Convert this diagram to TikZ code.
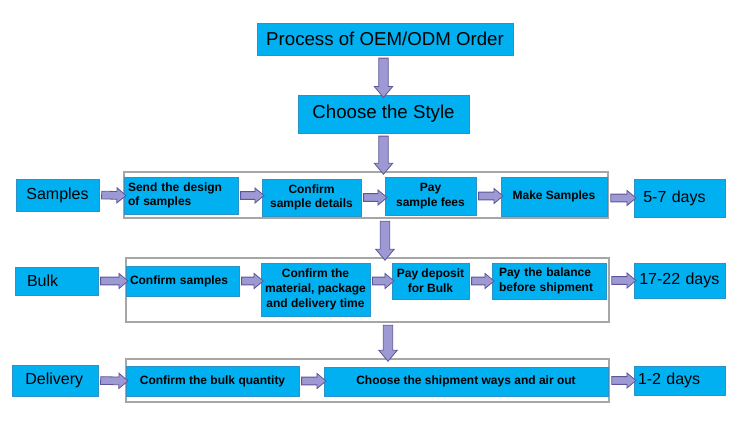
\documentclass[tikz,border=0pt]{standalone}
\usepackage{fontspec}
\setmainfont{Liberation Sans}
\usetikzlibrary{shapes.arrows, calc}
\definecolor{boxblue}{HTML}{00B0F0}
\definecolor{boxedge}{HTML}{2B93C8}
\definecolor{arrowfill}{HTML}{9D99D2}
\definecolor{arrowedge}{HTML}{5E5499}
\definecolor{framegray}{HTML}{A6A6A6}
\tikzset{
    stepbox/.style={draw=boxedge, fill=boxblue, line width=0.5pt, inner sep=3pt, font=\fontsize{9}{11}\selectfont\bfseries, align=center},
    headbox/.style={stepbox, font=\fontsize{14}{16}\selectfont},
    rowbox/.style={stepbox, font=\fontsize{12}{14}\selectfont},
    rowframe/.style={draw=framegray, fill=white, line width=0.8pt, inner sep=0pt},
    arrowbody/.style={single arrow, draw=arrowedge, fill=arrowfill, line width=0.6pt, inner xsep=0pt, single arrow tip angle=80},
    blockarrow/.style={to path={let \p1=(\tikztostart), \p2=(\tikztotarget), \n1={veclen(\x2-\x1,\y2-\y1)}, \n2={atan2(\y2-\y1,\x2-\x1)} in node[arrowbody, #1, minimum height=\n1, rotate=\n2] at ($(\tikztostart)!0.5!(\tikztotarget)$) {}}},
    harrow/.style={blockarrow={inner ysep=2.6pt, single arrow head extend=2.8pt}},
    varrow/.style={blockarrow={inner ysep=3.2pt, single arrow head extend=3.4pt}},
    }

\begin{document}
\begin{tikzpicture}[x=0.75pt, y=-0.75pt]
    \useasboundingbox (0,0) rectangle (750,433);

    % row frames
    \node[rowframe, minimum width=363pt, minimum height=34.5pt] (sframe) at (366,195) {};
    \node[rowframe, minimum width=362.25pt, minimum height=48pt] (bframe) at (367.5,290) {};
    \node[rowframe, minimum width=362.25pt, minimum height=32.25pt] (dframe) at (367.5,380.5) {};

    % head
    \node[headbox, minimum width=192pt, minimum height=24pt] (title) at (385,39) {Process of OEM/ODM Order};
    \node[headbox, minimum width=128.25pt, minimum height=28.5pt] (style) at (383.5,114) {Choose the Style};

    % samples
    \node[rowbox, minimum width=62.25pt, minimum height=24pt] (samples) at (57.5,195) {Samples};
    \node[stepbox, text width=79.5pt, align=left, minimum height=27.75pt] (send) at (181,195.5) {Send the design\\of samples};
    \node[stepbox, minimum width=74.25pt, minimum height=27.75pt] (cdetail) at (311.5,197.5) {Confirm\\sample details};
    \node[stepbox, minimum width=68.25pt, minimum height=28.5pt] (payfee) at (430.5,196) {Pay\\sample fees};
    \node[stepbox, minimum width=79.5pt, minimum height=29.25pt] (make) at (554,196.5) {Make Samples};
    \node[rowbox, inner xsep=7pt, text width=54.25pt, align=left, minimum height=28.5pt] (sdays) at (679.5,198) {5-7 days};

    % bulk
    \node[rowbox, inner xsep=9pt, text width=44.25pt, align=left, minimum height=21pt] (bulk) at (56.5,281) {Bulk};
    \node[stepbox, text width=78.75pt, align=left, minimum height=22.5pt] (csamp) at (182.5,281) {Confirm samples};
    \node[stepbox, minimum width=80.25pt, minimum height=39.75pt] (material) at (315.5,289.5) {Confirm the\\material, package\\and delivery time};
    \node[stepbox, minimum width=57.75pt, minimum height=27pt] (deposit) at (430.5,281) {Pay deposit\\for Bulk};
    \node[stepbox, inner xsep=5.25pt, text width=75pt, align=left, minimum height=27pt] (balance) at (549,281) {Pay the balance\\before shipment};
    \node[rowbox, inner xsep=4pt, text width=60.25pt, align=left, minimum height=26.25pt] (bdays) at (679.5,280.5) {17-22 days};

    % delivery
    \node[rowbox, inner xsep=10pt, text width=44.5pt, align=left, minimum height=23.25pt] (delivery) at (55,380.5) {Delivery};
    \node[stepbox, minimum width=129.75pt, minimum height=22.5pt] (cqty) at (212.5,381) {Confirm the bulk quantity};
    \node[stepbox, minimum width=213pt, minimum height=21.75pt] (shipway) at (466,381.5) {Choose the shipment ways and air out};
    \node[rowbox, text width=62.25pt, align=left, minimum height=21.75pt] (ddays) at (679.5,380.5) {1-2 days};

    % arrows down
    \path (title.south -| style.north) to[varrow] (style.north);
    \path (style.south) to[varrow] (sframe.north -| style.south);
    \path ($(sframe.south -| style.south)+(1.5,0)$) to[varrow] ($(bframe.north -| style.south)+(1.5,0)$);
    \path ($(bframe.south -| style.south)+(4.5,0)$) to[varrow] ($(dframe.north -| style.south)+(4.5,0)$);

    % arrows across
    \path (samples.east) to[harrow] (send.west);
    \path (send.east) to[harrow] (cdetail.west |- send.east);
    \path (cdetail.east) to[harrow] (payfee.west |- cdetail.east);
    \path (payfee.east) to[harrow] (make.west |- payfee.east);
    \path (sframe.east |- sdays.west) to[harrow] (sdays.west);

    \path (bulk.east) to[harrow] (csamp.west);
    \path (csamp.east) to[harrow] (material.west |- csamp.east);
    \path (material.east |- deposit.west) to[harrow] (deposit.west);
    \path (deposit.east) to[harrow] (balance.west);
    \path (bframe.east |- bdays.west) to[harrow] (bdays.west);

    \path (delivery.east) to[harrow] (cqty.west);
    \path (cqty.east) to[harrow] (shipway.west |- cqty.east);
    \path (dframe.east |- ddays.west) to[harrow] (ddays.west);
\end{tikzpicture}
\end{document}
